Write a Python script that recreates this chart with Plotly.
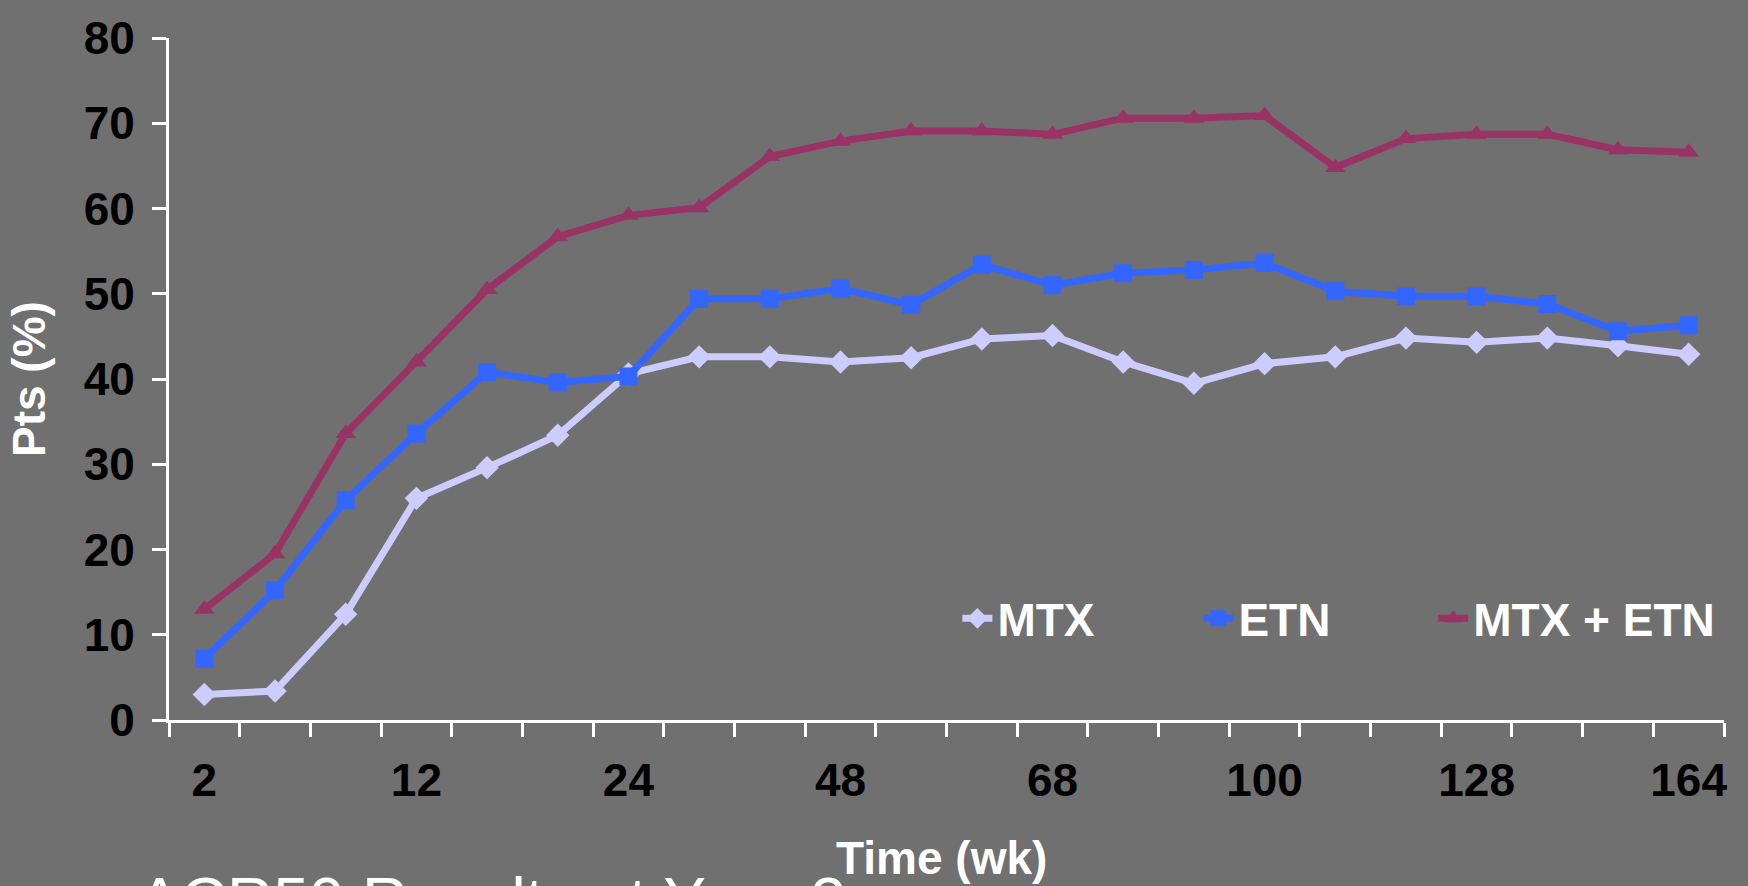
import plotly.graph_objects as go

# 22 assessment visits (category index); only every third is labelled
tick_positions = [0, 3, 6, 9, 12, 15, 18, 21]
tick_labels = ["2", "12", "24", "48", "68", "100", "128", "164"]

mtx = [3.0, 3.4, 12.4, 26.0, 29.6, 33.4, 40.6, 42.6, 42.6, 42.0, 42.5,
       44.7, 45.1, 42.0, 39.5, 41.8, 42.6, 44.8, 44.3, 44.8, 43.9, 42.9]
etn = [7.2, 15.2, 25.8, 33.6, 40.8, 39.6, 40.3, 49.4, 49.4, 50.6, 48.7,
       53.4, 51.0, 52.4, 52.8, 53.6, 50.3, 49.7, 49.7, 48.8, 45.6, 46.3]
combo = [13.0, 19.5, 33.6, 42.0, 50.5, 56.7, 59.2, 60.1, 66.1, 67.9, 69.1,
         69.1, 68.7, 70.6, 70.6, 70.9, 64.8, 68.2, 68.7, 68.7, 66.9, 66.6]

series_names = ["MTX", "ETN", "MTX + ETN"]
series_colors = ["#CCCCFF", "#3366FF", "#993366"]
series_symbols = ["diamond", "square", "triangle-up"]
legend_ids = ["legend", "legend2", "legend3"]
legend_x = [0.507, 0.662, 0.813]

x = list(range(len(mtx)))

BG = "#707070"
FONT = "Liberation Sans, Arial, sans-serif"
legend_font = dict(family=FONT, size=46, color="white", weight="bold")

fig = go.Figure()
for name, vals, col, sym, lg in zip(series_names, [mtx, etn, combo], series_colors,
                                     series_symbols, legend_ids):
    fig.add_trace(go.Scatter(
        x=x, y=vals, name=name, mode="lines+markers", legend=lg,
        line=dict(color=col, width=7),
        marker=dict(symbol=sym, size=18, color=col),
    ))

legends = {}
for lg, lx in zip(legend_ids, legend_x):
    legends[lg] = dict(orientation="h", x=lx, y=0.149, xanchor="left",
                       yanchor="middle", bgcolor="rgba(0,0,0,0)", font=legend_font)

fig.update_layout(
    width=1748, height=886,
    paper_bgcolor=BG, plot_bgcolor=BG,
    margin=dict(l=169, r=24, t=28, b=166),
    showlegend=True,
    **legends,
    xaxis=dict(
        range=[-0.5, 21.5], showgrid=False, zeroline=False,
        showline=True, linecolor="white", linewidth=3,
        tickmode="array", tickvals=tick_positions, ticktext=tick_labels,
        ticks="", ticklabelstandoff=18,
        tickfont=dict(family=FONT, size=46, color="black", weight="bold"),
        minor=dict(tickmode="linear", tick0=-0.5, dtick=1, ticks="outside",
                   ticklen=14, tickwidth=3, tickcolor="white", showgrid=False),
    ),
    yaxis=dict(
        range=[0, 80], dtick=10, showgrid=False, zeroline=False,
        showline=True, linecolor="white", linewidth=3,
        ticks="outside", ticklen=14, tickwidth=3, tickcolor="white",
        ticklabelstandoff=8,
        tickfont=dict(family=FONT, size=46, color="black", weight="bold"),
    ),
    annotations=[
        dict(text="Pts (%)", xref="paper", yref="paper", x=-0.09, y=0.5,
             xanchor="center", yanchor="middle", textangle=-90, showarrow=False,
             font=dict(family=FONT, size=46, color="white", weight="bold")),
        dict(text="Time (wk)", xref="paper", yref="paper", x=0.497, y=-0.203,
             xanchor="center", yanchor="middle", showarrow=False,
             font=dict(family=FONT, size=46, color="white", weight="bold")),
        dict(text="ACR50 Results at Year 3", xref="paper", yref="paper",
             x=-0.021, y=-0.21, xanchor="left", yanchor="top", showarrow=False,
             font=dict(family=FONT, size=64, color="white")),
    ],
)

fig.write_html("out.html", config={"displayModeBar": False},
               post_script="document.body.style.margin='0';")
